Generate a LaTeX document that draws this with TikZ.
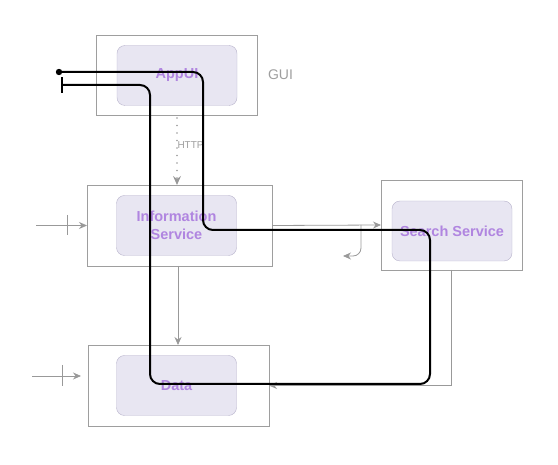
\documentclass[tikz,border=0pt]{standalone}
\usepackage{fontspec}
\setmainfont{Liberation Sans}
\usetikzlibrary{arrows.meta}
\definecolor{boxline}{HTML}{9E9E9E}
\definecolor{svcfill}{HTML}{E8E6F2}
\definecolor{svcline}{HTML}{B8B3CC}
\definecolor{svctext}{HTML}{B085E0}
\definecolor{wire}{HTML}{999999}

\begin{document}
\begin{tikzpicture}[
        x = 1pt,
        y = -1pt,
        every node/.style = {inner sep = 0, outer sep = 0},
        layer/.style = {rectangle, draw = boxline, line width = 0.8pt},
        service/.style = {rectangle, rounded corners = 8pt, draw = svcline, fill = svcfill,
          minimum width = 120pt, minimum height = 60pt, align = center,
          text = svctext, font = \fontsize{14.5}{18}\selectfont\bfseries},
        link/.style = {draw = wire, line width = 0.8pt, -{Stealth[length = 8pt, width = 7pt]}},
        flow/.style = {draw = black, line width = 2pt, rounded corners = 10pt}
      ]
      \useasboundingbox (0,0) rectangle (558,465);
      % outer layers
      \node[layer, minimum width = 161pt, minimum height = 80pt] (gui) at (176.5,75) {};
      \node[layer, minimum width = 185pt, minimum height = 81pt] (info) at (179.5,225.5) {};
      \node[layer, minimum width = 141pt, minimum height = 90pt] (search) at (451.5,225) {};
      \node[layer, minimum width = 181pt, minimum height = 81pt] (data) at (178.5,385.5) {};
      % services
      \node[service] (appui) at (177,75.5) {AppUI};
      \node[service] (infosvc) at (176.5,225.5) {Information\\Service};
      \node[service] (searchsvc) at (452,231) {Search Service};
      \node[service] (datasvc) at (176.5,385.5) {Data};
      \node[anchor = west, text = boxline, font = \fontsize{14}{16}\selectfont] (guilabel) at (268,75) {GUI};
      % connectors
      \draw[link, line width = 1.8pt, line cap = round, dash pattern = on 0pt off 7.5pt,
        -{Stealth[length = 9pt, width = 8pt, line width = 0pt]}]
        (gui.south -| appui.south) ++(0,3) -- (appui.south |- info.north);
      \node[anchor = west, text = boxline, font = \fontsize{10}{11}\selectfont] (http) at (177.5,145) {HTTP};
      \draw[link] (info.south -| 178,0) -- (data.north -| 178,0);
      \draw[link] (info.east) -- (search.west);
      \coordinate (retour) at (343,256);
      \draw[link, rounded corners = 8pt] (361,225) |- (retour);
      \draw[link] (search.south) |- (data.east);
      \coordinate (infoin) at (36,225.5);
      \draw[link] (infoin) -- (info.west);
      \draw[draw = wire, line width = 0.8pt] (67,215) -- (67,235);
      \coordinate (datain) at (32,376);
      \coordinate (dataend) at (81,376);
      \draw[link] (datain) -- (dataend);
      \draw[draw = wire, line width = 0.8pt] (62,365) -- (62,386);
      % flow through the layers
      \coordinate (src) at (59,72);
      \coordinate (snk) at (61,85);
      \fill (src) circle (3.2pt);
      \draw[flow, -{Bar[width = 16pt, line width = 2pt]}] (src) -- (203,72) -- (203,230) -- (430,230)
        -- (430,384) -- (150,384) -- (150,85) -- (snk);
    \end{tikzpicture}
\end{document}
